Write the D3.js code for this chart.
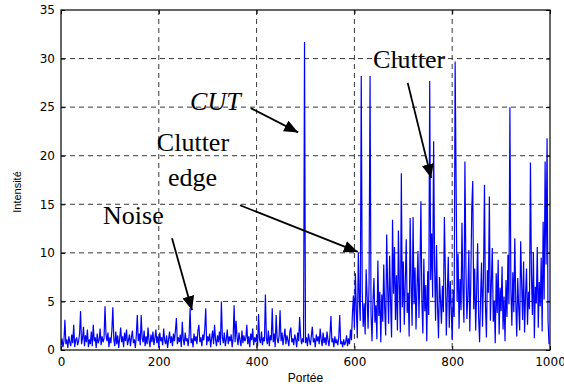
<!DOCTYPE html>
<html>
<head>
<meta charset="utf-8">
<script src="https://cdn.jsdelivr.net/npm/d3@7"></script>
<style>
  body { margin: 0; background: #fff; }
  svg { display: block; }
</style>
</head>
<body>
<div id="chart"></div>
<script>
// one intensity value every 2 range cells (0 .. 998)
const sampleStep = 2;
const intensity = [
  0.5,1.2,0.3,0.9,3.1,0.6,1.1,0.2,1.4,0.8,
  0.4,1.6,0.7,2.6,0.3,1.0,1.3,0.5,0.9,1.7,
  4.0,0.6,1.2,2.4,0.4,1.5,0.8,2.1,0.3,1.1,
  0.6,1.9,0.4,2.6,0.9,1.3,0.2,1.7,0.7,1.0,
  2.2,0.5,1.4,0.8,1.2,4.5,1.6,0.9,1.8,0.3,
  1.3,0.7,2.0,4.4,1.1,0.4,1.9,0.6,1.5,0.2,
  1.2,2.3,0.8,1.4,0.3,1.8,0.9,2.1,0.5,1.0,
  1.6,0.4,1.3,2.0,0.7,1.1,0.2,1.5,3.6,0.9,
  1.7,0.5,3.6,1.2,0.8,2.0,0.4,1.4,0.6,2.3,
  1.0,0.3,1.6,0.8,1.9,0.5,1.2,2.1,0.7,1.4,
  0.3,1.8,0.9,1.3,0.5,2.2,1.0,0.6,1.5,0.2,
  1.1,1.9,0.7,1.4,0.4,1.7,0.9,2.0,3.3,0.6,
  1.3,0.8,1.6,0.3,2.9,1.1,0.5,1.8,0.9,1.2,
  0.4,1.5,4.3,0.7,1.2,0.3,1.7,0.9,1.4,0.6,
  2.0,2.6,0.8,1.3,0.4,1.6,1.0,2.2,4.3,0.5,
  1.4,0.9,1.7,0.3,1.2,2.0,0.6,2.6,1.1,0.4,
  1.5,0.8,1.9,0.5,5.0,1.3,0.7,1.8,0.4,1.1,
  2.1,0.6,1.4,0.9,1.6,0.3,1.2,4.6,0.8,3.0,
  1.3,0.5,1.8,1.0,0.4,2.0,0.7,1.5,0.9,1.2,
  2.6,0.6,1.4,0.3,1.7,1.0,2.2,0.5,1.3,0.8,
  1.6,0.4,3.7,1.1,0.7,1.9,0.5,1.3,0.9,5.7,
  1.2,0.6,2.0,0.4,1.5,1.0,4.3,0.8,1.7,0.3,
  3.6,1.2,0.7,1.4,4.1,0.9,1.8,0.5,1.3,2.2,
  0.6,1.5,1.0,0.4,1.9,2.3,0.8,1.2,0.5,1.6,
  1.1,0.3,1.8,0.9,3.4,1.4,0.6,1.2,0.8,31.7,
  0.7,1.3,0.4,1.7,1.0,0.5,1.5,2.4,0.8,1.2,
  0.3,1.6,0.9,1.4,0.6,2.2,1.1,0.4,1.8,0.7,
  1.3,0.5,1.9,1.0,0.4,1.5,3.5,0.8,1.2,0.3,
  1.4,0.7,1.0,0.5,1.3,3.6,0.6,0.9,0.3,1.1,
  0.5,0.8,1.5,0.4,1.2,0.6,2.1,1.0,3.8,5.6,
  2.3,7.9,4.1,1.2,10.0,5.3,3.0,28.2,6.1,2.4,
  4.8,1.6,8.3,5.5,2.2,6.9,28.2,3.7,0.9,5.1,
  7.4,2.8,4.6,1.1,9.2,3.5,6.0,0.8,5.7,2.9,
  8.8,4.2,1.5,11.9,6.3,2.7,9.7,4.9,1.3,13.4,
  5.8,10.6,3.1,7.7,2.0,12.3,6.5,1.8,18.2,4.4,
  9.1,2.6,7.0,11.4,3.8,5.9,1.4,13.6,6.8,2.5,
  13.7,4.7,8.5,2.1,6.4,10.2,3.3,7.8,15.3,5.0,
  1.7,9.4,4.0,6.7,0.9,8.1,3.6,27.7,7.2,12.0,
  5.4,21.5,8.9,3.0,10.8,4.5,1.2,7.5,5.2,2.7,
  6.6,3.9,13.7,8.0,1.5,5.8,9.6,2.3,7.1,4.3,
  1.0,6.2,3.4,29.7,17.2,5.0,9.9,2.2,7.3,4.1,
  13.1,6.0,2.8,19.4,8.7,3.2,5.6,10.3,1.9,7.0,
  14.6,17.4,4.2,8.4,2.0,6.1,11.0,3.5,0.8,5.3,
  9.0,2.4,7.6,17.0,4.6,1.3,8.2,5.9,15.8,3.0,
  6.8,10.5,2.9,5.1,0.7,7.9,3.8,9.3,1.6,6.4,
  4.0,8.6,2.1,5.5,0.9,7.2,3.4,9.8,4.7,25.0,
  6.3,2.5,8.0,3.9,11.5,5.0,1.4,7.4,4.4,2.0,
  11.2,6.9,3.1,9.1,1.8,5.7,8.4,2.6,6.0,4.2,
  19.3,7.8,3.6,10.1,1.2,6.5,4.8,10.6,2.3,7.0,
  4.5,9.5,1.9,13.2,5.2,19.4,8.8,21.8,3.0,0.6
];

const xTicks = [0, 200, 400, 600, 800, 1000];
const yTicks = [0, 5, 10, 15, 20, 25, 30, 35];
const xLabel = "Portée";
const yLabel = "Intensité";

// annotation texts and arrows, in data units
const notes = [
  {text: "CUT", x: 264, y: 24.7, italic: true},
  {text: "Clutter", x: 196, y: 20.5},
  {text: "edge", x: 219, y: 16.9},
  {text: "Noise", x: 86, y: 13.0},
  {text: "Clutter", x: 638, y: 29.0}
];
const arrows = [
  {x1: 388, y1: 24.9, x2: 485, y2: 22.4},
  {x1: 366, y1: 14.9, x2: 607, y2: 10.1},
  {x1: 227, y1: 11.5, x2: 268, y2: 4.1},
  {x1: 709, y1: 27.5, x2: 757, y2: 17.7}
];

const W = 564, H = 387;
const margin = {top: 10, right: 14, bottom: 37, left: 61};
const width = W - margin.left - margin.right;
const height = H - margin.top - margin.bottom;

const svg = d3.select("#chart").append("svg")
  .attr("width", W)
  .attr("height", H);

const defs = svg.append("defs");
defs.append("clipPath").attr("id", "plotClip")
  .append("rect").attr("width", width).attr("height", height);
defs.append("marker")
  .attr("id", "head")
  .attr("viewBox", "0 0 14 12")
  .attr("refX", 14).attr("refY", 6)
  .attr("markerWidth", 14).attr("markerHeight", 12)
  .attr("markerUnits", "userSpaceOnUse")
  .attr("orient", "auto")
  .append("path").attr("d", "M0,0L14,6L0,12Z").attr("fill", "#000");

const g = svg.append("g")
  .attr("transform", `translate(${margin.left},${margin.top})`);

const x = d3.scaleLinear().domain([0, 1000]).range([0, width]);
const y = d3.scaleLinear().domain([0, 35]).range([height, 0]);

// dashed grid
g.append("g").selectAll("line")
  .data(xTicks.slice(1, -1))
  .join("line")
  .attr("x1", d => x(d)).attr("x2", d => x(d))
  .attr("y1", 0).attr("y2", height)
  .attr("stroke", "#222").attr("stroke-width", 0.9)
  .attr("stroke-dasharray", "5,4");
g.append("g").selectAll("line")
  .data(yTicks.slice(1, -1))
  .join("line")
  .attr("x1", 0).attr("x2", width)
  .attr("y1", d => y(d)).attr("y2", d => y(d))
  .attr("stroke", "#222").attr("stroke-width", 0.9)
  .attr("stroke-dasharray", "5,4");

// signal
const line = d3.line()
  .x((d, i) => x(i * sampleStep))
  .y(d => y(d));
g.append("path")
  .datum(intensity)
  .attr("clip-path", "url(#plotClip)")
  .attr("d", line)
  .attr("fill", "none")
  .attr("stroke", "#0000ff")
  .attr("stroke-width", 1.2)
  .attr("stroke-linejoin", "miter");

// axes, MATLAB style ticks pointing inward
const tickFont = "'DejaVu Sans', sans-serif";
const xAxis = g.append("g")
  .attr("transform", `translate(0,${height})`)
  .call(d3.axisBottom(x).tickValues(xTicks).tickFormat(d3.format("d"))
    .tickSizeInner(-4).tickSizeOuter(0).tickPadding(7.5));
const yAxis = g.append("g")
  .call(d3.axisLeft(y).tickValues(yTicks).tickFormat(d3.format("d"))
    .tickSizeInner(-4).tickSizeOuter(0).tickPadding(6));
g.append("g")
  .call(d3.axisTop(x).tickValues(xTicks).tickSizeInner(-4).tickSizeOuter(0).tickFormat(""));
g.append("g")
  .attr("transform", `translate(${width},0)`)
  .call(d3.axisRight(y).tickValues(yTicks).tickSizeInner(-4).tickSizeOuter(0).tickFormat(""));

g.selectAll(".domain").remove();
g.selectAll(".tick line").attr("stroke", "#000");
[xAxis, yAxis].forEach(a => a.selectAll("text")
  .style("font-family", tickFont)
  .style("font-size", "12px")
  .attr("fill", "#000"));

g.append("rect")
  .attr("width", width).attr("height", height)
  .attr("fill", "none").attr("stroke", "#000").attr("stroke-width", 1.2);

// axis labels
svg.append("text")
  .attr("x", margin.left + width / 2)
  .attr("y", 382)
  .attr("text-anchor", "middle")
  .style("font-family", "'Liberation Sans', Arial, sans-serif")
  .style("font-size", "12px")
  .text(xLabel);
svg.append("text")
  .attr("transform", `translate(21,${margin.top + height / 2 + 12}) rotate(-90)`)
  .attr("text-anchor", "middle")
  .style("font-family", "'Liberation Sans', Arial, sans-serif")
  .style("font-size", "11px")
  .text(yLabel);

// annotations
g.append("g").selectAll("line")
  .data(arrows)
  .join("line")
  .attr("x1", d => x(d.x1)).attr("y1", d => y(d.y1))
  .attr("x2", d => x(d.x2)).attr("y2", d => y(d.y2))
  .attr("stroke", "#000").attr("stroke-width", 1.8)
  .attr("marker-end", "url(#head)");

g.append("g").selectAll("text")
  .data(notes)
  .join("text")
  .attr("x", d => x(d.x)).attr("y", d => y(d.y))
  .style("font-family", "'Liberation Serif', 'Times New Roman', serif")
  .style("font-size", "26px")
  .style("font-style", d => d.italic ? "italic" : "normal")
  .text(d => d.text);
</script>
</body>
</html>
